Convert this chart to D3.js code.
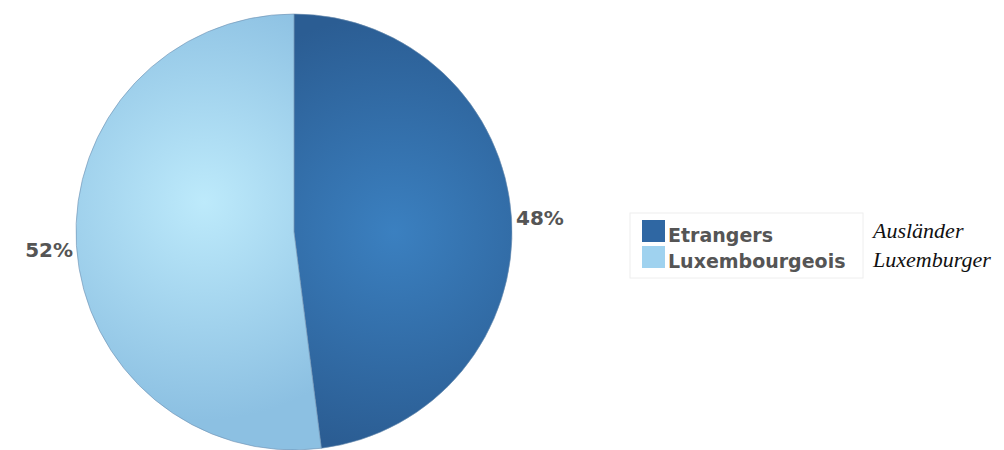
<!DOCTYPE html>
<html lang="en">
<head>
  <meta charset="UTF-8">
  <title>Etrangers / Luxembourgeois</title>
  <style>
    body { margin: 0; background: #fff; }
  </style>
</head>
<body>
  <svg width="1004" height="450"></svg>
  <script src="https://d3js.org/d3.v7.min.js"></script>
  <script>
    var categories = ["Etrangers", "Luxembourgeois"],
        translations = ["Ausländer", "Luxemburger"],
        values = [48, 52];

    var svg = d3.select("svg"),
        cx = 294, cy = 232, radius = 218;

    var defs = svg.append("defs");
    var grads = [
      {id: "g0", inner: "#3b80c0", outer: "#2b5d93", x: 100, y: 0},
      {id: "g1", inner: "#bdeafb", outer: "#8cc0e2", x: -90, y: -30}
    ];
    grads.forEach(function(g) {
      var rg = defs.append("radialGradient")
        .attr("id", g.id)
        .attr("gradientUnits", "userSpaceOnUse")
        .attr("cx", g.x).attr("cy", g.y).attr("r", radius);
      rg.append("stop").attr("offset", "0%").attr("stop-color", g.inner);
      rg.append("stop").attr("offset", "100%").attr("stop-color", g.outer);
    });

    var pie = d3.pie().sort(null).value(function(d) { return d; });
    var arc = d3.arc().innerRadius(0).outerRadius(radius);

    var g = svg.append("g").attr("transform", "translate(" + cx + "," + cy + ")");

    var arcs = pie(values);

    g.selectAll("path.slice")
      .data(arcs)
      .enter().append("path")
      .attr("class", "slice")
      .attr("d", arc)
      .attr("fill", function(d, i) { return "url(#g" + i + ")"; })
      .attr("stroke", "#6d8fb0")
      .attr("stroke-width", 0.6);

    // percentage labels just outside the rim
    g.selectAll("text.pct")
      .data(arcs)
      .enter().append("text")
      .attr("class", "pct")
      .attr("x", function(d, i) { return i === 0 ? radius + 4 : -radius - 3; })
      .attr("y", function(d, i) { return i === 0 ? -7 : 25; })
      .attr("text-anchor", function(d, i) { return i === 0 ? "start" : "end"; })
      .style("font", "bold 20px 'DejaVu Sans', sans-serif")
      .attr("fill", "#555")
      .text(function(d) { return d.data + "%"; });

    // legend
    var legend = svg.append("g").attr("transform", "translate(630,213)");
    legend.append("rect")
      .attr("width", 233).attr("height", 65)
      .attr("fill", "#fff").attr("stroke", "#eee");

    var colorSolid = ["#2f67a3", "#9fd2ef"];
    var item = legend.selectAll("g.item")
      .data(categories)
      .enter().append("g")
      .attr("class", "item")
      .attr("transform", function(d, i) { return "translate(12," + (7 + i * 26) + ")"; });

    item.append("rect")
      .attr("width", 23).attr("height", 22)
      .attr("fill", function(d, i) { return colorSolid[i]; });

    item.append("text")
      .attr("x", 26).attr("y", 22)
      .style("font", "bold 19px 'DejaVu Sans', sans-serif")
      .attr("fill", "#555")
      .text(function(d) { return d; });

    svg.selectAll("text.trans")
      .data(translations)
      .enter().append("text")
      .attr("class", "trans")
      .attr("x", 873)
      .attr("y", function(d, i) { return 238 + i * 29; })
      .style("font", "italic 22px 'Liberation Serif', serif")
      .attr("fill", "#111")
      .text(function(d) { return d; });
  </script>
</body>
</html>
